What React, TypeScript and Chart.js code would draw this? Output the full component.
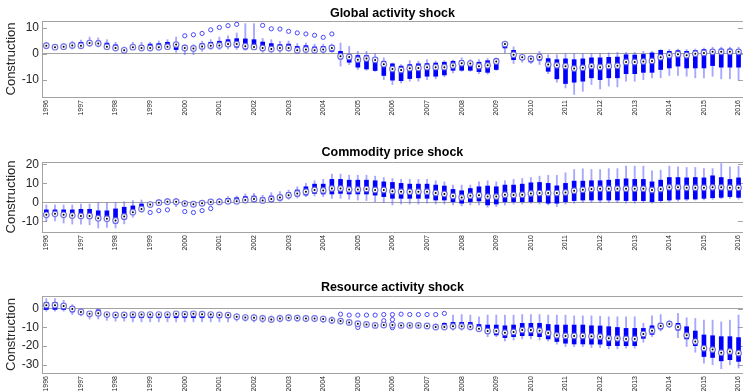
import React, { useEffect, useRef } from "react";
import { Chart, registerables } from "chart.js";

Chart.register(...registerables);

// ---- categories -------------------------------------------------------------
const yearLabels = [
  "1996", "1997", "1998", "1999", "2000", "2001", "2002", "2003", "2004", "2005", "2006",
  "2007", "2008", "2009", "2010", "2011", "2012", "2013", "2014", "2015", "2016",
];
const quarterNames = ["Q1", "Q2", "Q3", "Q4"];
// 1996Q1 ... 2016Q1
const quarterLabels: string[] = [];
yearLabels.forEach((y, yi) => {
  quarterNames.forEach((q, qi) => {
    if (yi < yearLabels.length - 1 || qi === 0) quarterLabels.push(y + q);
  });
});

// ---- Global activity shock ---------------------------------------------------
const gaMed = [
  3.2, 2.6, 2.8, 3.3, 3.2, 4.2, 4.0, 2.8, 2.3, 1.4, 2.6, 2.3, 2.3, 2.6, 2.8, 3.6,
  2.3, 2.1, 2.9, 3.2, 3.3, 3.8, 3.8, 3.0, 2.7, 2.3, 1.9, 2.3, 2.3, 1.4, 1.7, 1.4,
  1.7, 2.3, -0.9, -1.2, -2.2, -1.8, -2.3, -4.0, -5.8, -6.2, -5.5, -5.4, -5.1, -5.1, -5.1, -4.5,
  -3.6, -3.7, -4.7, -4.4, -2.9, 3.8, -0.3, -1.3, -1.9, -1.2, -4.1, -4.4, -4.7, -5.6, -5.3, -4.7,
  -5.1, -4.7, -4.6, -3.1, -3.1, -2.9, -2.7, -1.3, -0.5, -0.1, -0.5, 0.1, 0.4, 0.8, 0.8, 0.8,
  0.8,
];
const gaQ3 = [
  4.0, 2.9, 3.3, 4.1, 4.5, 5.0, 5.0, 4.2, 3.5, 2.2, 2.9, 3.2, 3.8, 4.0, 4.5, 4.0,
  3.2, 2.9, 4.0, 4.5, 4.9, 5.5, 5.9, 5.8, 5.5, 4.6, 4.0, 3.6, 3.8, 2.9, 3.2, 2.7,
  2.9, 3.2, 1.0, -0.3, -0.6, -0.6, -1.5, -2.8, -3.8, -4.7, -4.1, -3.8, -3.7, -3.5, -3.2, -2.8,
  -2.6, -2.8, -3.2, -2.6, -1.9, 4.5, 1.4, -0.6, -0.9, -0.3, -1.8, -2.2, -1.9, -2.2, -1.9, -1.5,
  -1.5, -1.3, -1.2, -0.3, -0.4, 0.0, 0.4, 1.4, 1.0, 1.3, 1.0, 1.3, 1.7, 1.7, 1.9, 1.9,
  1.7,
];
const gaQ1 = [
  2.7, 2.2, 2.3, 2.8, 2.9, 3.7, 3.7, 2.7, 1.9, 0.9, 1.9, 1.9, 1.9, 2.1, 2.4, 1.7,
  1.7, 1.4, 2.2, 2.7, 2.9, 2.9, 2.6, 1.9, 1.9, 1.4, 1.4, 1.7, 1.7, 1.0, 1.3, 0.9,
  1.0, 1.0, -1.9, -3.2, -5.1, -5.8, -6.4, -8.3, -10.1, -10.3, -9.5, -9.2, -8.6, -8.6, -8.1, -6.3,
  -6.3, -6.3, -6.8, -7.1, -6.0, 2.3, -2.2, -2.2, -3.1, -2.4, -6.7, -9.6, -11.4, -10.9, -10.5, -9.2,
  -9.9, -9.2, -9.2, -7.6, -7.6, -7.1, -7.1, -6.0, -5.4, -4.7, -5.4, -5.4, -5.4, -4.5, -5.1, -5.1,
  -5.1,
];
const gaHi = [
  4.5, 3.6, 4.0, 4.9, 5.3, 6.5, 6.2, 5.5, 4.5, 2.7, 4.5, 4.5, 4.5, 5.0, 5.5, 6.5,
  3.6, 3.6, 4.9, 5.5, 6.5, 7.0, 8.1, 11.7, 11.7, 6.0, 5.5, 4.9, 5.0, 4.0, 4.2, 3.8,
  3.8, 3.8, 4.2, 2.9, 1.0, 1.0, 0.1, -1.5, -3.5, -4.1, -2.6, -2.8, -2.2, -2.8, -2.6, -2.4,
  -1.5, -2.2, -2.2, -1.8, -1.5, 4.9, 2.7, -0.3, -0.6, 1.0, -0.3, -0.3, 0.1, 0.1, 0.1, 0.1,
  0.1, 0.4, 0.6, 0.6, 0.6, 1.0, 1.0, 1.7, 1.7, 1.9, 1.7, 1.9, 2.3, 2.6, 2.6, 2.6,
  2.6,
];
const gaLo = [
  1.9, 1.9, 1.7, 1.9, 1.9, 2.9, 2.7, 1.7, 1.4, 0.6, 1.7, 1.4, 1.2, 1.4, 1.7, 0.6,
  -0.3, -0.3, 1.0, 1.7, 1.7, 1.9, 1.7, 1.4, 1.7, 0.6, 0.6, 0.6, 1.0, 0.3, 0.5, 0.2,
  0.3, 0.6, -4.7, -4.1, -6.0, -6.3, -6.7, -9.9, -11.8, -11.2, -10.5, -10.5, -9.9, -9.6, -8.8, -7.3,
  -6.7, -6.7, -7.6, -7.8, -6.3, 0.4, -3.7, -3.2, -3.7, -4.1, -7.6, -10.9, -13.1, -15.6, -14.4, -11.8,
  -13.5, -12.4, -12.7, -10.5, -10.5, -9.9, -9.2, -9.2, -8.3, -8.3, -8.6, -9.2, -9.2, -8.6, -9.6, -9.6,
  -9.9,
];
// [quarter index, value]
const gaOutliers: [number, number][] = [
  [16, 7.0], [17, 7.4], [18, 7.9], [19, 9.3], [20, 10.2], [21, 10.9], [22, 11.4],
  [25, 11.0], [26, 9.7], [27, 9.6], [28, 8.7], [29, 8.1], [30, 7.7], [31, 7.2], [32, 6.4], [33, 7.7],
];
const gaTicks = [-10, 0, 10];

// ---- Commodity price shock ---------------------------------------------------
const cpMed = [
  -6.6, -6.1, -6.6, -7.0, -7.2, -7.2, -8.4, -8.7, -9.6, -7.5, -5.2, -3.5, -1.2, -0.2, 0.3, 0.3,
  -0.7, -1.0, -0.5, 0.2, 0.2, 0.5, 0.5, 1.2, 1.7, 1.0, 1.7, 2.6, 3.7, 4.7, 5.6, 6.5,
  6.3, 7.3, 7.3, 6.8, 6.8, 7.0, 6.5, 6.5, 5.8, 5.6, 5.6, 5.6, 5.6, 4.9, 4.4, 3.3,
  2.6, 3.5, 3.7, 3.0, 3.0, 4.0, 3.8, 4.0, 4.7, 4.9, 4.9, 4.9, 5.2, 6.1, 6.6, 7.0,
  7.2, 7.2, 7.2, 7.2, 7.2, 7.2, 6.5, 7.0, 7.9, 7.9, 7.7, 7.7, 7.7, 7.9, 7.9, 7.7,
  7.7,
];
const cpQ3 = [
  -4.0, -4.0, -4.0, -4.0, -3.7, -3.7, -4.5, -4.5, -3.5, -2.6, -1.9, -0.9, -0.5, 0.9, 1.2, 1.2,
  0.2, -0.2, 0.3, 0.9, 1.2, 2.1, 2.4, 3.0, 3.3, 2.4, 3.3, 3.8, 5.1, 6.5, 8.2, 9.6,
  9.6, 12.1, 12.1, 11.7, 11.7, 11.7, 11.4, 10.8, 10.5, 10.0, 9.6, 9.6, 9.6, 9.1, 8.6, 6.8,
  6.1, 7.3, 8.2, 8.6, 8.2, 9.1, 9.1, 9.6, 10.3, 10.5, 10.0, 8.7, 10.0, 11.2, 11.2, 11.4,
  11.4, 11.7, 12.1, 12.4, 12.1, 12.1, 10.8, 11.7, 13.1, 13.1, 12.9, 13.1, 12.9, 14.0, 13.1, 12.1,
  12.9,
];
const cpQ1 = [
  -7.2, -6.6, -7.2, -7.5, -7.9, -8.4, -9.3, -9.3, -11.0, -8.9, -5.8, -4.0, -1.9, -0.9, -0.2, -0.2,
  -1.4, -1.9, -1.4, -0.5, -0.2, 0.0, 0.0, 0.5, 0.5, 0.2, 0.5, 1.2, 2.6, 3.3, 3.8, 4.7,
  4.4, 4.4, 4.7, 4.4, 4.4, 4.4, 3.8, 3.0, 2.1, 2.1, 2.1, 2.1, 2.1, 1.2, 1.2, 0.3,
  -0.5, 0.3, 0.7, -1.4, -0.9, 0.3, 0.3, 0.3, 0.3, 0.3, -0.5, -0.5, 0.3, 0.9, 1.2, 1.2,
  1.2, 1.2, 1.2, 0.9, 0.9, 0.9, 0.3, 0.9, 1.2, 1.6, 1.7, 1.7, 2.1, 2.4, 2.6, 3.0,
  2.6,
];
const cpHi = [
  -1.4, -1.4, -1.4, -1.4, -0.9, -0.9, -0.2, -0.2, -0.2, 0.3, 0.9, 1.2, 0.3, 1.6, 2.1, 2.1,
  0.9, 0.3, 0.9, 1.6, 2.1, 3.0, 3.3, 4.4, 4.7, 3.7, 5.1, 5.6, 6.5, 8.2, 10.0, 11.4,
  12.1, 14.9, 14.9, 14.3, 14.3, 14.3, 13.8, 13.1, 12.6, 12.1, 12.1, 12.1, 12.1, 11.4, 10.8, 9.1,
  9.1, 9.1, 10.8, 11.4, 10.8, 11.4, 12.1, 12.6, 13.1, 13.8, 14.3, 14.3, 15.6, 17.3, 17.7, 17.3,
  17.3, 17.8, 17.8, 19.1, 19.1, 19.1, 16.6, 17.0, 19.1, 18.7, 18.4, 18.4, 17.8, 17.8, 20.5, 18.7,
  19.1,
];
const cpLo = [
  -10.1, -9.8, -11.0, -11.5, -11.5, -11.9, -13.6, -13.3, -13.6, -11.4, -7.9, -5.4, -2.6, -1.4, -0.9, -2.3,
  -1.9, -2.6, -1.9, -1.4, -0.9, -0.5, -0.5, -0.2, -0.2, -0.5, -0.2, 0.5, 1.6, 2.3, 3.0, 3.3,
  3.0, 2.1, 2.1, 1.6, 1.2, 0.9, 0.3, -0.2, -1.4, -0.9, -0.9, -0.9, -0.5, -0.9, -0.9, -1.4,
  -1.9, -1.4, -1.4, -2.6, -2.3, -1.4, -0.9, -0.9, -0.5, -0.9, -1.4, -2.3, -0.9, -0.5, -0.2, -0.2,
  -0.2, -0.2, -0.2, -0.5, -0.5, -0.2, -0.5, -0.2, 0.3, 0.7, 0.9, 1.2, 1.2, 1.6, 1.9, 2.1,
  1.6,
];
const cpOutliers: [number, number][] = [
  [12, -5.4], [13, -4.4], [14, -4.0], [16, -4.9], [17, -5.4], [18, -4.4], [19, -3.3],
];
const cpTicks = [-10, 0, 10, 20];

// ---- Resource activity shock -------------------------------------------------
const raMed = [
  1.8, 1.8, 1.4, -0.2, -1.8, -2.8, -2.5, -3.2, -3.4, -3.4, -3.2, -3.2, -3.2, -3.2, -3.2, -2.8,
  -3.0, -2.8, -3.0, -3.2, -3.4, -3.5, -4.4, -4.8, -4.9, -5.3, -5.8, -5.3, -4.9, -5.1, -5.3, -5.3,
  -5.6, -6.3, -6.7, -7.4, -8.1, -8.5, -9.0, -8.8, -8.8, -9.0, -9.0, -9.0, -9.3, -9.9, -9.9, -9.5,
  -9.5, -9.7, -10.8, -12.0, -12.0, -12.9, -12.5, -11.5, -11.5, -11.8, -13.1, -14.3, -14.6, -14.6, -14.6, -14.8,
  -15.0, -15.9, -15.9, -16.2, -16.2, -13.6, -11.8, -9.3, -8.3, -9.9, -14.3, -17.6, -21.2, -21.9, -23.6, -22.9,
  -23.8,
];
const raQ3 = [
  3.2, 3.2, 2.3, 0.9, -0.9, -1.8, -0.7, -2.6, -2.6, -2.6, -2.6, -2.6, -2.6, -2.6, -2.6, -2.3,
  -2.3, -2.3, -2.3, -2.6, -2.6, -3.0, -3.5, -3.9, -4.2, -4.6, -5.1, -4.6, -4.2, -4.4, -4.6, -4.6,
  -4.9, -5.6, -6.0, -6.9, -7.6, -8.0, -8.5, -8.3, -8.3, -8.5, -8.5, -8.5, -8.8, -8.8, -7.9, -7.4,
  -7.4, -7.4, -8.5, -8.8, -8.8, -9.2, -8.8, -7.9, -7.9, -7.9, -8.5, -8.8, -8.8, -8.8, -8.8, -9.2,
  -9.3, -9.7, -10.1, -10.6, -10.6, -10.6, -9.2, -7.9, -7.1, -7.9, -9.7, -12.0, -14.1, -14.5, -15.0, -15.0,
  -15.5,
];
const raQ1 = [
  -0.5, -0.5, -0.5, -1.8, -2.6, -3.9, -3.5, -3.9, -4.6, -4.9, -4.9, -4.9, -4.9, -4.9, -4.9, -4.9,
  -4.9, -4.9, -4.9, -4.9, -4.9, -4.9, -4.9, -5.3, -5.5, -5.8, -6.3, -5.8, -5.5, -5.6, -5.8, -5.8,
  -6.2, -6.9, -7.2, -7.9, -8.6, -9.0, -9.5, -9.3, -9.3, -9.5, -9.5, -9.5, -9.9, -10.6, -10.6, -10.2,
  -10.2, -10.6, -11.5, -13.2, -14.1, -15.5, -15.0, -14.5, -14.5, -15.0, -16.2, -17.6, -18.5, -18.9, -18.9, -19.0,
  -19.0, -19.8, -19.8, -19.8, -19.8, -15.9, -13.8, -10.9, -9.2, -11.5, -16.2, -19.8, -25.6, -26.1, -27.9, -27.3,
  -28.2,
];
const raHi = [
  5.3, 5.3, 4.4, 2.1, 0.0, -1.8, 0.0, -2.3, -2.3, -2.3, -2.3, -2.3, -2.3, -2.3, -2.3, -1.8,
  -1.8, -1.8, -1.8, -2.3, -2.3, -2.6, -2.6, -3.2, -3.2, -3.5, -3.9, -3.5, -3.2, -3.5, -3.7, -3.7,
  -3.9, -4.4, -5.3, -6.3, -7.1, -7.4, -8.1, -7.9, -8.0, -7.9, -7.9, -7.9, -8.3, -8.1, -7.4, -3.5,
  -3.2, -3.5, -4.4, -3.5, -3.5, -3.5, -3.5, -3.2, -3.2, -3.2, -3.5, -3.5, -3.5, -3.9, -3.9, -3.9,
  -4.1, -4.4, -4.4, -4.4, -4.4, -7.9, -3.9, -3.2, -6.2, -2.6, -4.9, -5.3, -6.2, -6.2, -7.1, -6.2,
  -3.5,
];
const raLo = [
  -1.4, -1.4, -1.4, -3.2, -3.9, -5.6, -5.6, -6.3, -6.7, -6.7, -7.1, -7.1, -7.1, -7.1, -7.1, -7.1,
  -7.1, -7.1, -7.1, -7.1, -7.1, -7.1, -6.7, -6.7, -7.1, -7.4, -7.4, -7.1, -6.7, -6.9, -7.1, -7.1,
  -7.4, -8.1, -8.3, -8.8, -9.3, -9.7, -10.1, -9.7, -9.7, -10.1, -10.1, -10.1, -10.4, -11.1, -11.3, -11.5,
  -11.5, -11.5, -12.3, -15.0, -15.0, -17.3, -16.8, -16.2, -16.2, -16.8, -17.3, -19.0, -20.3, -20.3, -20.3, -20.8,
  -20.8, -21.5, -21.5, -21.2, -21.2, -18.0, -15.0, -12.0, -10.2, -15.5, -20.3, -23.3, -29.1, -30.0, -32.1, -30.0,
  -31.7,
];
const raOutliers: [number, number][] = [
  [34, -3.0], [35, -3.5], [36, -3.5], [36, -10.1], [37, -3.5], [38, -3.5], [39, -3.2], [39, -6.5],
  [40, -3.2], [40, -5.9], [40, -10.2], [41, -3.0], [42, -3.2], [43, -3.2], [44, -3.2], [45, -3.2], [46, -2.6],
];
const raTicks = [-30, -20, -10, 0];

// ---- styling -----------------------------------------------------------------
const FONT = '"Liberation Sans", Arial, Helvetica, sans-serif';
const AXIS_GRAY = "#a3a3a3";
const TEXT = "#262626";
const BOX_BLUE = "#0000ff";
const WHISKER = "rgba(95, 95, 255, 0.55)";
const OUTLIER = "#4646ff";
const MEDIAN_RING = "rgba(90, 90, 220, 0.8)";

type PanelSpec = {
  title: string;
  med: number[];
  q1: number[];
  q3: number[];
  lo: number[];
  hi: number[];
  outliers: [number, number][];
  ticks: number[];
  yMin: number;
  yMax: number;
  top: number;
  height: number;
  titleTop: number;
  titleBottom: number;
  xAxisHeight: number;
};

const panels: PanelSpec[] = [
  {
    title: "Global activity shock",
    med: gaMed, q1: gaQ1, q3: gaQ3, lo: gaLo, hi: gaHi, outliers: gaOutliers, ticks: gaTicks,
    yMin: -16.6, yMax: 12.7,
    top: 0, height: 120, titleTop: 6, titleBottom: 0, xAxisHeight: 23,
  },
  {
    title: "Commodity price shock",
    med: cpMed, q1: cpQ1, q3: cpQ3, lo: cpLo, hi: cpHi, outliers: cpOutliers, ticks: cpTicks,
    yMin: -15.7, yMax: 21.3,
    top: 130, height: 125, titleTop: 15.5, titleBottom: 1.5, xAxisHeight: 23,
  },
  {
    title: "Resource activity shock",
    med: raMed, q1: raQ1, q3: raQ3, lo: raLo, hi: raHi, outliers: raOutliers, ticks: raTicks,
    yMin: -34.4, yMax: 6.7,
    top: 265, height: 126, titleTop: 15.5, titleBottom: 0.5, xAxisHeight: 18,
  },
];

// top frame edge plus inward tick marks on both vertical edges
const framePlugin = {
  id: "boxFrame",
  beforeDatasetsDraw(chart: any) {
    const { ctx, chartArea } = chart;
    const y = chart.scales.y;
    ctx.save();
    ctx.strokeStyle = AXIS_GRAY;
    ctx.lineWidth = 1;
    ctx.beginPath();
    ctx.moveTo(chartArea.left, chartArea.top + 0.5);
    ctx.lineTo(chartArea.right, chartArea.top + 0.5);
    y.ticks.forEach((t: any) => {
      const py = Math.round(y.getPixelForValue(t.value)) + 0.5;
      ctx.moveTo(chartArea.left, py);
      ctx.lineTo(chartArea.left + 5, py);
      ctx.moveTo(chartArea.right - 5, py);
      ctx.lineTo(chartArea.right, py);
    });
    ctx.stroke();
    ctx.restore();
  },
};

const CANVAS_W = 750;

function BoxPanel({ spec }: { spec: PanelSpec }) {
  const ref = useRef<HTMLCanvasElement | null>(null);

  useEffect(() => {
    if (!ref.current) return;
    const chart = new Chart(ref.current, {
      type: "bar",
      data: {
        labels: quarterLabels,
        datasets: [
          {
            type: "line",
            label: "median dot",
            data: spec.med,
            showLine: false,
            pointRadius: 1,
            pointBorderWidth: 0,
            pointBackgroundColor: "#000",
            order: 0,
          } as any,
          {
            type: "line",
            label: "median",
            data: spec.med,
            showLine: false,
            pointRadius: 2.8,
            pointBorderWidth: 1.2,
            pointBorderColor: MEDIAN_RING,
            pointBackgroundColor: "#ffffff",
            order: 1,
          } as any,
          {
            type: "line",
            label: "outliers",
            data: spec.outliers.map(([i, v]) => ({ x: quarterLabels[i], y: v })),
            showLine: false,
            pointRadius: 2.1,
            pointBorderWidth: 1,
            pointBorderColor: OUTLIER,
            pointBackgroundColor: "rgba(0,0,0,0)",
            order: 2,
          } as any,
          {
            type: "bar",
            label: "box",
            data: spec.q1.map((v, i) => [v, spec.q3[i]]),
            backgroundColor: BOX_BLUE,
            borderWidth: 0,
            barThickness: 4,
            grouped: false,
            order: 3,
          } as any,
          {
            type: "bar",
            label: "whisker",
            data: spec.lo.map((v, i) => [v, spec.hi[i]]),
            backgroundColor: WHISKER,
            borderWidth: 0,
            barThickness: 1.2,
            grouped: false,
            order: 4,
          } as any,
        ],
      },
      options: {
        responsive: false,
        animation: false,
        devicePixelRatio: 1,
        layout: { padding: { left: 0, right: 4, top: 0, bottom: 0 } },
        plugins: {
          legend: { display: false },
          tooltip: { enabled: false },
          title: {
            display: true,
            fullSize: false,
            text: spec.title,
            color: "#000",
            font: { family: FONT, size: 12.5, weight: "bold" },
            padding: { top: spec.titleTop, bottom: spec.titleBottom },
          },
        },
        scales: {
          x: {
            offset: true,
            afterFit: (s: any) => {
              s.height = spec.xAxisHeight;
            },
            grid: { display: false, drawTicks: false },
            border: { display: true, color: AXIS_GRAY, width: 1 },
            ticks: {
              autoSkip: false,
              minRotation: 90,
              maxRotation: 90,
              padding: 3,
              color: TEXT,
              font: { family: FONT, size: 7 },
              callback: (_v: any, i: number) => (i % 4 === 0 ? yearLabels[i / 4] : ""),
            },
          },
          y: {
            min: spec.yMin,
            max: spec.yMax,
            afterBuildTicks: (s: any) => {
              s.ticks = spec.ticks.map((v) => ({ value: v }));
            },
            afterFit: (s: any) => {
              s.width = 42;
            },
            grid: {
              drawTicks: false,
              lineWidth: 1,
              color: (c: any) => (c.tick && c.tick.value === 0 ? AXIS_GRAY : "rgba(0,0,0,0)"),
            },
            border: { display: true, color: AXIS_GRAY, width: 1 },
            ticks: {
              padding: 3,
              color: TEXT,
              font: { family: FONT, size: 12 },
            },
            title: {
              display: true,
              text: "Construction",
              color: TEXT,
              font: { family: FONT, size: 13 },
              padding: { top: 4, bottom: 0 },
            },
          },
        },
      } as any,
      plugins: [framePlugin],
    });
    return () => chart.destroy();
  }, [spec]);

  return (
    <canvas
      ref={ref}
      width={CANVAS_W}
      height={spec.height}
      style={{
        position: "absolute",
        left: 0,
        top: spec.top,
        width: CANVAS_W,
        height: spec.height,
      }}
    />
  );
}

export default function App() {
  return (
    <div
      style={{
        position: "fixed",
        left: 0,
        top: 0,
        width: 746,
        height: 391,
        overflow: "hidden",
        background: "#ffffff",
      }}
    >
      {panels.map((p) => (
        <BoxPanel key={p.title} spec={p} />
      ))}
    </div>
  );
}
